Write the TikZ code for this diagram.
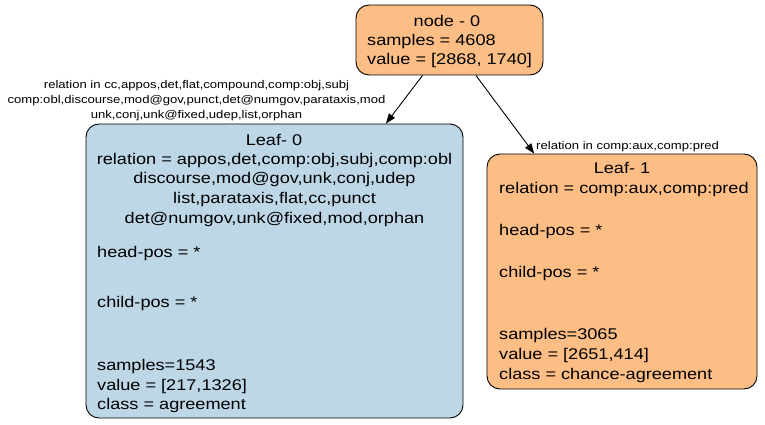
\documentclass[tikz,border=0pt]{standalone}
\usepackage{fontspec}
\setmainfont{Liberation Sans}[FakeStretch=1.17]
\usetikzlibrary{arrows.meta}
\definecolor{orangefill}{HTML}{FDBE85}
\definecolor{bluefill}{HTML}{BDD7E7}
\tikzset{
  box/.style={draw=black, line width=0.9pt, rounded corners=13pt, inner sep=0pt},
  txt/.style={inner sep=0pt, font=\fontsize{15.5}{18}\selectfont},
  ctxt/.style={txt, anchor=base},
  ltxt/.style={txt, anchor=base west},
  elab/.style={inner sep=0pt, font=\fontsize{11.2}{13}\selectfont},
  edge/.style={draw=black, line width=0.9pt, -{Triangle[length=10pt,width=7.5pt]}}
}
\begin{document}
\begin{tikzpicture}[x=1pt, y=-1pt]
\useasboundingbox (0,0) rectangle (765,425);
% boxes
\node[box, fill=orangefill, minimum width=187pt, minimum height=70pt] (n0) at (449.5,40) {};
\node[box, fill=bluefill, minimum width=377pt, minimum height=294pt] (l0) at (274.5,271) {};
\node[box, fill=orangefill, minimum width=270pt, minimum height=235pt] (l1) at (622,271.5) {};
% edges
\draw[edge] (n0) -- (l0);
\draw[edge] (n0) -- (l1);
% edge labels
\node[elab, anchor=base] (e0a) at (196.5,89) {relation in cc,appos,det,flat,compound,comp:obj,subj};
\node[elab, anchor=base] (e0b) at (196.5,104) {comp:obl,discourse,mod@gov,punct,det@numgov,parataxis,mod};
\node[elab, anchor=base] (e0c) at (196.5,118.5) {unk,conj,unk@fixed,udep,list,orphan};
\node[elab, anchor=base west] (e1a) at (536,149) {relation in comp:aux,comp:pred};
% node 0 text
\node[ctxt] (n0t1) at (447,26.7) {node - 0};
\node[ltxt] (n0t2) at (367,46) {samples = 4608};
\node[ltxt] (n0t3) at (367,65) {value = [2868, 1740]};
% leaf 0 text
\node[ctxt] (l0t1) at (274,145) {Leaf- 0};
\node[ctxt] (l0t2) at (274.5,164) {relation = appos,det,comp:obj,subj,comp:obl};
\node[ctxt] (l0t3) at (274.5,183.7) {discourse,mod@gov,unk,conj,udep};
\node[ctxt] (l0t4) at (274.5,203.4) {list,parataxis,flat,cc,punct};
\node[ctxt] (l0t5) at (274.5,223) {det@numgov,unk@fixed,mod,orphan};
\node[ltxt] (l0t6) at (97,257) {head-pos = *};
\node[ltxt] (l0t7) at (97,307) {child-pos = *};
\node[ltxt] (l0t8) at (97,370.5) {samples=1543};
\node[ltxt] (l0t9) at (97,390) {value = [217,1326]};
\node[ltxt] (l0t10) at (97,409.5) {class = agreement};
% leaf 1 text
\node[ctxt] (l1t1) at (622,173) {Leaf- 1};
\node[ltxt] (l1t2) at (499,193) {relation = comp:aux,comp:pred};
\node[ltxt] (l1t3) at (499,235) {head-pos = *};
\node[ltxt] (l1t4) at (499,277) {child-pos = *};
\node[ltxt] (l1t5) at (499,339) {samples=3065};
\node[ltxt] (l1t6) at (499,359) {value = [2651,414]};
\node[ltxt] (l1t7) at (499,379) {class = chance-agreement};
\end{tikzpicture}
\end{document}
